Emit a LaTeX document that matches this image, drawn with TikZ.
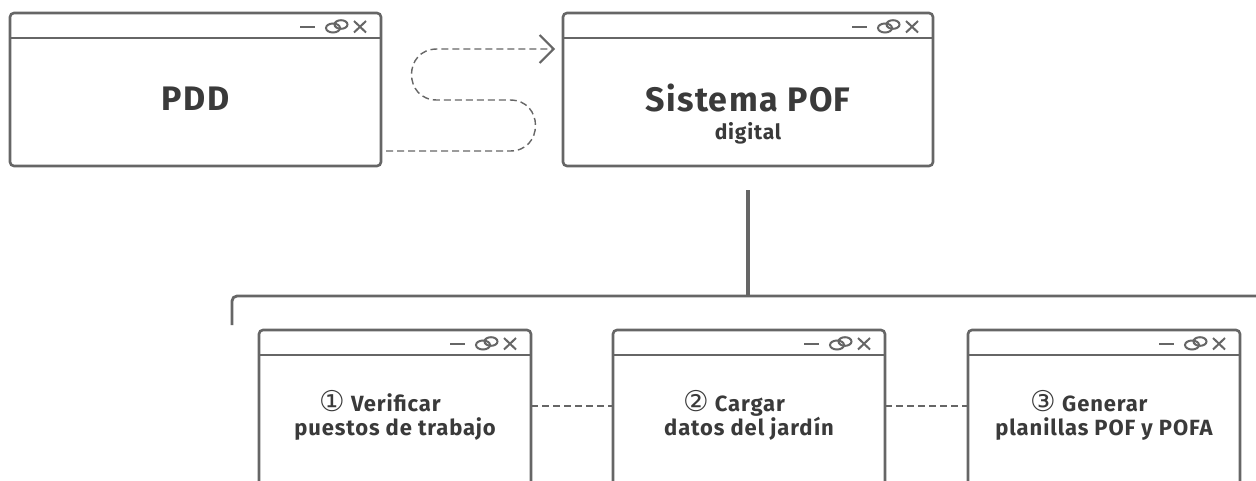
\documentclass[tikz,border=0pt]{standalone}
\usepackage{fontspec}
\setmainfont{Fira Sans}[LetterSpace=4]
\newfontfamily\symfont{DejaVu Sans}[Scale=1.3]
\usetikzlibrary{calc,arrows.meta}
\definecolor{ln}{HTML}{666666}
\definecolor{tx}{HTML}{3A3A3A}
\tikzset{
  x=1pt, y=-1pt,
  win/.style={draw=ln, line width=2.6pt, rounded corners=4pt, anchor=north west, inner sep=0pt, outer sep=0pt},
  barline/.style={draw=ln, line width=2.6pt},
  icon/.style={draw=ln, line width=2pt},
  dashconn/.style={draw=ln, line width=1.4pt, dash pattern=on 7pt off 4pt},
  bus/.style={draw=ln, line width=2.8pt, rounded corners=5pt},
  bigtxt/.style={text=tx, font=\bfseries\fontsize{34}{36}\selectfont, inner sep=0pt},
  subtxt/.style={text=tx, font=\bfseries\fontsize{21}{24}\selectfont, inner sep=0pt},
  steptxt/.style={text=tx, font=\bfseries\fontsize{22}{24}\selectfont, align=center, inner sep=0pt},
}
\newcommand\winbox[5]{%
  \node[win, minimum width=#4pt, minimum height=#5pt] (#1) at (#2,#3) {};
  \draw[barline] ($(#1.north west)+(0,25)$) -- ($(#1.north east)+(0,25)$);
  \begin{scope}[shift={(#1.north east)}]
    \draw[icon] (-81,13.5) -- (-66,13.5);
    \draw[icon] (-48,15) ellipse [x radius=7pt, y radius=4.5pt];
    \draw[icon] (-40,11.5) ellipse [x radius=6.5pt, y radius=4.3pt];
    \draw[icon] (-27,8) -- (-15,19.5) (-27,19.5) -- (-15,8);
  \end{scope}
}
\newcommand\cnum[1]{{\symfont\mdseries #1}}
\begin{document}
\begin{tikzpicture}
\clip (0,0) rectangle (1256,480);
\fill[white] (0,0) rectangle (1256,480);
% top boxes
\winbox{pdd}{10}{13}{371}{153}
\winbox{sys}{563}{13}{370}{153}
\node[bigtxt] (pddt) at (195.5,99) {PDD};
\node[bigtxt, anchor=base] (syst) at (748,111) {Sistema POF};
\node[subtxt, anchor=base] (sysd) at (748,139) {digital};
% S-shaped dashed connector
\coordinate (s0) at ($(pdd.south east)+(5,-15)$);
\coordinate (s1) at ($(sys.north west)+(-8,36)$);
\draw[dashconn, -{Straight Barb[length=14pt, width=28pt, line width=2pt]}]
  (s0) -- (510,151) .. controls (544,151) and (544,100) .. (510,100)
  -- (437,100) .. controls (403,100) and (403,49) .. (437,49) -- (s1);
% bus
\coordinate (vtop) at ($(sys.south)+(0,24)$);
\coordinate (bleft) at (232,325);
\coordinate (bright) at (1258,296);
\draw[bus, line width=3.4pt] (vtop) -- (vtop |- bright);
\draw[bus] (bleft) -- (bleft |- bright) -- (bright);
% bottom boxes
\winbox{b1}{259}{330}{272}{180}
\winbox{b2}{613}{330}{272}{180}
\winbox{b3}{968}{330}{272}{180}
\node[steptxt] (t1) at (395,415) {\cnum{①} Verificar\hspace*{30pt}\\puestos de trabajo};
\node[steptxt] (t2) at (749,415) {\cnum{②} Cargar\hspace*{30pt}\\datos del jardín};
\node[steptxt] (t3) at (1104,415) {\cnum{③} Generar\hspace*{30pt}\\planillas POF y POFA};
\draw[dashconn] ($(b1.north east)+(0,76)$) -- ($(b2.north west)+(0,76)$);
\draw[dashconn] ($(b2.north east)+(0,76)$) -- ($(b3.north west)+(0,76)$);
\end{tikzpicture}
\end{document}
